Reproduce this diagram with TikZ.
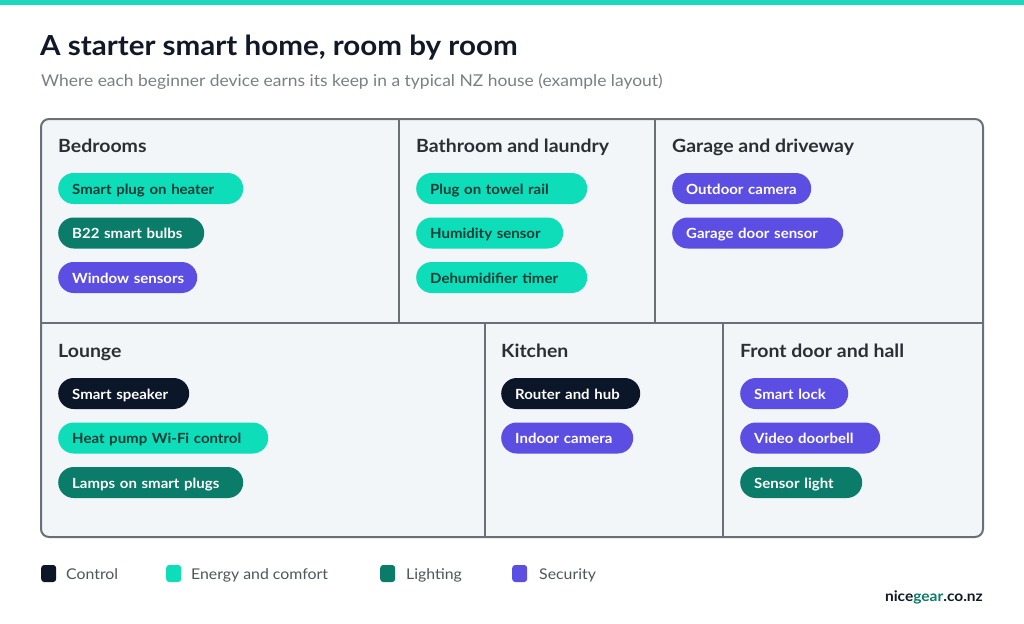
\documentclass[tikz,border=0pt]{standalone}
\usepackage{fontspec}
\setmainfont{Lato}
\newfontfamily\widefont{Lato}[FakeStretch=1.07]
\definecolor{ctrl}{HTML}{0B1628}
\definecolor{energy}{HTML}{0DDDB9}
\definecolor{light}{HTML}{0A7C69}
\definecolor{secu}{HTML}{5C4EE2}
\definecolor{topbar}{HTML}{1ED8BB}
\definecolor{cellbg}{HTML}{F2F6F8}
\definecolor{frame}{HTML}{6A7075}
\definecolor{titlec}{HTML}{111827}
\definecolor{roomc}{HTML}{2B2F33}
\definecolor{subc}{HTML}{7A7F85}
\definecolor{legc}{HTML}{50555A}
\definecolor{energytxt}{HTML}{123B36}
\tikzset{
  pill/.style={anchor=west, rounded corners=15.5pt, minimum height=31pt, inner xsep=14pt, inner ysep=0pt,
     text height=14pt, text depth=3pt, align=left, font=\widefont\fontsize{14}{16}\selectfont\bfseries},
  pctrl/.style={pill, fill=ctrl, text=white},
  penergy/.style={pill, fill=energy, text=energytxt},
  plight/.style={pill, fill=light, text=white},
  psecu/.style={pill, fill=secu, text=white},
  roomtitle/.style={anchor=base west, inner sep=0pt, text=roomc, font=\widefont\fontsize{18.2}{20}\selectfont\bfseries},
  cellline/.style={draw=frame, line width=1.2pt},
  legbox/.style={fill=#1, rounded corners=3pt, minimum width=15pt, minimum height=17pt, inner sep=0pt, anchor=west},
  legtext/.style={anchor=base west, inner sep=0pt, text=legc, font=\widefont\fontsize{14.8}{16}\selectfont},
}
\begin{document}
\begin{tikzpicture}[x=1pt,y=-1pt]
\useasboundingbox (0,0) rectangle (1024,623);
\fill[white] (0,0) rectangle (1024,623);
\fill[topbar] (0,0) rectangle (1024,5);
% titles
\node[anchor=base west, inner sep=0pt, text=titlec, font=\widefont\fontsize{27.6}{30}\selectfont\bfseries] (title) at (40,56) {A starter smart home, room by room};
\node[anchor=base west, inner sep=0pt, text=subc, font=\widefont\fontsize{16.3}{19}\selectfont] (subtitle) at (41,87) {Where each beginner device earns its keep in a typical NZ house (example layout)};
% plan
\fill[cellbg, rounded corners=8pt] (41,119) rectangle (983,537);
\draw[cellline] (399,119) -- (399,323);
\draw[cellline] (655,119) -- (655,323);
\draw[cellline] (41,323) -- (983,323);
\draw[cellline] (485,323) -- (485,537);
\draw[cellline] (723,323) -- (723,537);
\draw[draw=frame, line width=2pt, rounded corners=8pt] (41,119) rectangle (983,537);
% Bedrooms
\node[roomtitle] (bed) at (58,152) {Bedrooms};
\node[penergy, text width=157pt] (b1) at (58,188.5) {\mbox{Smart plug on heater}};
\node[plight, text width=118pt] (b2) at (58,233) {\mbox{B22 smart bulbs}};
\node[psecu, text width=111pt] (b3) at (58,277.5) {\mbox{Window sensors}};
% Bathroom
\node[roomtitle] (bath) at (416,152) {Bathroom and laundry};
\node[penergy, text width=143pt] (t1) at (416,188.5) {\mbox{Plug on towel rail}};
\node[penergy, text width=119pt] (t2) at (416,233) {\mbox{Humidity sensor}};
\node[penergy, text width=143pt] (t3) at (416,277.5) {\mbox{Dehumidifier timer}};
% Garage
\node[roomtitle] (gar) at (672,152) {Garage and driveway};
\node[psecu, text width=111pt] (g1) at (672,188.5) {\mbox{Outdoor camera}};
\node[psecu, text width=143pt] (g2) at (672,233) {\mbox{Garage door sensor}};
% Lounge
\node[roomtitle] (lou) at (58,357.5) {Lounge};
\node[pctrl, text width=103pt] (l1) at (58,393.5) {\mbox{Smart speaker}};
\node[penergy, text width=182pt] (l2) at (58,438) {\mbox{Heat pump Wi-Fi control}};
\node[plight, text width=157pt] (l3) at (58,482.5) {\mbox{Lamps on smart plugs}};
% Kitchen
\node[roomtitle] (kit) at (501,357.5) {Kitchen};
\node[pctrl, text width=111pt] (k1) at (501,393.5) {\mbox{Router and hub}};
\node[psecu, text width=104pt] (k2) at (501,438) {\mbox{Indoor camera}};
% Front door
\node[roomtitle] (fro) at (740,357.5) {Front door and hall};
\node[psecu, text width=80pt] (f1) at (740,393.5) {\mbox{Smart lock}};
\node[psecu, text width=112pt] (f2) at (740,438) {\mbox{Video doorbell}};
\node[plight, text width=94pt] (f3) at (740,482.5) {\mbox{Sensor light}};
% legend
\node[legbox=ctrl] (lc) at (41,573.5) {};
\node[legtext] (lct) at (66,579) {Control};
\node[legbox=energy] (le) at (166,573.5) {};
\node[legtext] (let) at (191,579) {Energy and comfort};
\node[legbox=light] (ll) at (380,573.5) {};
\node[legtext] (llt) at (406,579) {Lighting};
\node[legbox=secu] (ls) at (512,573.5) {};
\node[legtext] (lst) at (539,579) {Security};
\node[anchor=base east, inner sep=0pt, text=titlec, font=\widefont\fontsize{14.5}{15}\selectfont\bfseries] (brand) at (983,601) {nice\textcolor{light}{gear}.co.nz};
\end{tikzpicture}
\end{document}
